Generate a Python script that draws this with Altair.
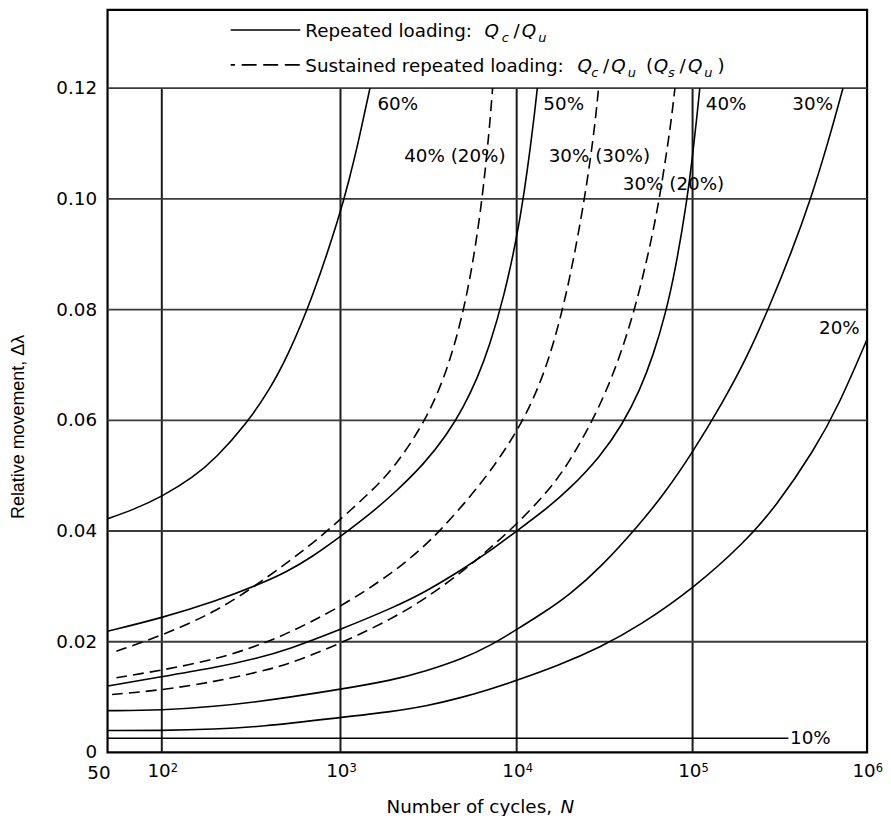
import altair as alt
import pandas as pd

FONT = "DejaVu Sans"
FS = 18.4
W, H = 763, 746

# ---------------- data ----------------
x_ticks = [50, 100, 1000, 10000, 100000, 1000000]
x_tick_base = ["50", "10", "10", "10", "10", "10"]
x_tick_exp = ["", "2", "3", "4", "5", "6"]
x_grid = [100, 1000, 10000, 100000]
y_ticks = [0, 0.02, 0.04, 0.06, 0.08, 0.10, 0.12]
y_tick_labels = ["0", "0.02", "0.04", "0.06", "0.08", "0.10", "0.12"]
y_grid = [0.02, 0.04, 0.06, 0.08, 0.10, 0.12]

# repeated loading (solid)
r60_n = [50, 70, 100, 150, 200, 300, 400, 500, 700, 1000, 1110, 1250, 1380, 1470]
r60_v = [0.0422, 0.0439, 0.0462, 0.0497, 0.0531, 0.0595, 0.0655, 0.0712, 0.0822, 0.0975, 0.1030, 0.1096, 0.1160, 0.1200]
r50_n = [50, 100, 200, 348, 500, 700, 1000, 1500, 2000, 3000, 4000, 5000, 6000, 7000, 8500, 10000, 11000, 12000, 12700, 13100]
r50_v = [0.0219, 0.0243, 0.0273, 0.0303, 0.0326, 0.0354, 0.0390, 0.0433, 0.0467, 0.0522, 0.0573, 0.0624, 0.0677, 0.0733, 0.0825, 0.0929, 0.1008, 0.1096, 0.1160, 0.1200]
r40_n = [50, 100, 200, 348, 500, 1000, 2000, 3000, 5000, 7000, 10000, 15000, 20000, 30000, 40000, 50000, 60000, 70000, 80000, 93000, 100000, 106000, 110000]
r40_v = [0.0120, 0.0137, 0.0153, 0.0171, 0.0185, 0.0222, 0.0262, 0.0289, 0.0332, 0.0363, 0.0400, 0.0442, 0.0476, 0.0535, 0.0593, 0.0653, 0.0719, 0.0791, 0.0873, 0.0997, 0.1077, 0.1150, 0.1200]
r30_n = [50, 100, 200, 348, 500, 1000, 2000, 3000, 5000, 7000, 10000, 14000, 20000, 30000, 50000, 70000, 100000, 150000, 204000, 276000, 370000, 476000, 600000, 730000]
r30_v = [0.00755, 0.0076, 0.0083, 0.0092, 0.0099, 0.0114, 0.0131, 0.0146, 0.0170, 0.0192, 0.0222, 0.0251, 0.0285, 0.0334, 0.0412, 0.0470, 0.0542, 0.0634, 0.0712, 0.0805, 0.0904, 0.0999, 0.1102, 0.1200]
r20_n = [50, 100, 200, 348, 1000, 2000, 3000, 5000, 7000, 10000, 17000, 30000, 50000, 100000, 200000, 300000, 500000, 700000, 1000000]
r20_v = [0.00395, 0.00395, 0.0042, 0.0046, 0.0063, 0.0074, 0.0083, 0.0100, 0.0114, 0.0130, 0.0156, 0.0190, 0.0229, 0.0295, 0.0380, 0.0444, 0.0546, 0.0631, 0.0745]
r10_n = [50, 355000]
r10_v = [0.00257, 0.00257]

# sustained repeated loading (dashed)
s4020_n = [56, 100, 200, 330, 500, 700, 1000, 1500, 2000, 3000, 4000, 5000, 5800, 6400, 6800, 7100, 7300]
s4020_v = [0.0183, 0.0211, 0.0254, 0.0300, 0.0342, 0.0378, 0.0421, 0.0472, 0.0513, 0.0595, 0.0685, 0.0795, 0.0906, 0.1006, 0.1086, 0.1150, 0.1200]
s3030_n = [56, 100, 200, 348, 500, 1000, 2000, 3000, 3650, 5000, 7000, 10000, 13000, 16000, 20000, 24600, 27000, 28300, 29200]
s3030_v = [0.0135, 0.01485, 0.0168, 0.01934, 0.0214, 0.02624, 0.0325, 0.0373, 0.0400, 0.0448, 0.0505, 0.0578, 0.0650, 0.0730, 0.0850, 0.1008, 0.1101, 0.1155, 0.1200]
s3020_n = [53, 100, 200, 348, 500, 1000, 2000, 3000, 5000, 7000, 10000, 15000, 20000, 30000, 40000, 50000, 60000, 65300, 72000, 76500, 79400]
s3020_v = [0.01048, 0.01125, 0.0128, 0.01456, 0.0158, 0.01965, 0.0243, 0.0277, 0.0328, 0.0368, 0.0412, 0.0471, 0.0524, 0.0626, 0.0727, 0.0832, 0.0944, 0.1008, 0.1093, 0.1155, 0.1200]

solid_curves = [("60%", r60_n, r60_v), ("50%", r50_n, r50_v), ("40%", r40_n, r40_v),
                ("30%", r30_n, r30_v), ("20%", r20_n, r20_v), ("10%", r10_n, r10_v)]
dashed_curves = [("40% (20%)", s4020_n, s4020_v), ("30% (30%)", s3030_n, s3030_v),
                 ("30% (20%)", s3020_n, s3020_v)]

# curve labels
lab_text = ["60%", "50%", "40%", "30%", "20%", "40% (20%)", "30% (30%)", "30% (20%)", "10%"]
lab_n = [1600, 14000, 117500, 369000, 525000, 2270, 15000, 39600, 358000]
lab_v = [0.1171, 0.1171, 0.1171, 0.1171, 0.0766, 0.1077, 0.1077, 0.1027, 0.00257]


def to_df(curves):
    rows = []
    for name, ns, vs in curves:
        for i, (n, v) in enumerate(zip(ns, vs)):
            rows.append({"curve": name, "N": n, "v": v, "i": i})
    return pd.DataFrame(rows)


solid_df = to_df(solid_curves)
dashed_df = to_df(dashed_curves)
label_df = pd.DataFrame({"t": lab_text, "N": lab_n, "v": lab_v})
xt_df = pd.DataFrame({"N": x_ticks, "b": x_tick_base, "e": x_tick_exp})
yt_df = pd.DataFrame({"v": y_ticks, "t": y_tick_labels})
one = pd.DataFrame({"k": [0]})

xs = alt.Scale(type="log", domain=[50, 100, 1000, 10000, 100000, 1000000],
               range=[0, 54.5, 234, 411, 587.7, 762.7], nice=False)
ys = alt.Scale(domain=[0, 0.13415], nice=False, zero=False)

X = lambda: alt.X("N:Q", scale=xs, axis=None)
Yn = lambda: alt.Y("v:Q", scale=ys, axis=None)

layers = []

# vertical grid lines (stop at 0.12)
layers.append(
    alt.Chart(pd.DataFrame({"N": x_grid})).mark_rule(color="#1a1a1a", strokeWidth=2).encode(
        x=X(), y=alt.YDatum(0.0, scale=ys, axis=None), y2=alt.datum(0.12))
)
# horizontal grid lines
layers.append(
    alt.Chart(pd.DataFrame({"v": y_grid})).mark_rule(color="#3a3a3a", strokeWidth=1.8).encode(
        y=Yn(), x=alt.value(0), x2=alt.value(W))
)

# curves
layers.append(
    alt.Chart(solid_df).mark_line(color="black", strokeWidth=1.6, interpolate="basis").encode(
        x=X(), y=Yn(), detail="curve:N", order="i:Q")
)
layers.append(
    alt.Chart(dashed_df).mark_line(color="black", strokeWidth=1.6, interpolate="basis",
                                   strokeDash=[11, 6]).encode(
        x=X(), y=Yn(), detail="curve:N", order="i:Q")
)

# curve labels
layers.append(
    alt.Chart(label_df).mark_text(font=FONT, fontSize=FS, align="left", baseline="middle",
                                  color="black", dx=1).encode(
        x=X(), y=Yn(), text="t:N")
)

# y tick labels
layers.append(
    alt.Chart(yt_df).mark_text(font=FONT, fontSize=FS, align="right", baseline="middle",
                               color="black").encode(
        x=alt.value(-10.5), y=Yn(), text="t:N")
)

# x tick labels
layers.append(
    alt.Chart(xt_df).transform_filter("datum.e != ''").mark_text(
        font=FONT, fontSize=FS, align="right", baseline="middle", color="black", dx=9).encode(
        x=X(), y=alt.value(764.4), text="b:N")
)
layers.append(
    alt.Chart(xt_df).transform_filter("datum.e != ''").mark_text(
        font=FONT, fontSize=11.5, align="left", baseline="middle", color="black", dx=9).encode(
        x=X(), y=alt.value(762.2), text="e:N")
)
layers.append(
    alt.Chart(xt_df).transform_filter("datum.e == ''").mark_text(
        font=FONT, fontSize=FS, align="right", baseline="middle", color="black", dx=3).encode(
        x=X(), y=alt.value(766.7), text="b:N")
)


def ptext(s, x, y, size=FS, style="normal", align="left", angle=0, font=FONT):
    return alt.Chart(one).mark_text(
        text=s, font=font, fontSize=size, fontStyle=style, align=align,
        baseline="middle", angle=angle, color="black").encode(
        x=alt.value(x), y=alt.value(y))


# axis titles
layers.append(ptext("Number of cycles,", 280.3, 800.7))
layers.append(ptext("N", 455, 800.7, style="italic"))
layers.append(ptext("Relative movement, \u0394\u03bb", -88.5, 419, align="center", angle=270,
                    size=18, font="Liberation Sans"))

# legend samples
layers.append(alt.Chart(one).mark_rule(color="black", strokeWidth=1.6).encode(
    x=alt.value(123.7), x2=alt.value(193.7), y=alt.value(20.3)))
layers.append(alt.Chart(one).mark_rule(color="black", strokeWidth=1.6, strokeDash=[15, 6.7],
                                       strokeDashOffset=10.7).encode(
    x=alt.value(123.7), x2=alt.value(193.7), y=alt.value(55.3)))

SUB = 13
# legend row 1
layers += [
    ptext("Repeated loading:", 198.7, 21),
    ptext("Q", 378.7, 21, style="italic"),
    ptext("c", 396, 28.3, size=SUB, style="italic"),
    ptext("/", 407.7, 21),
    ptext("Q", 416, 21, style="italic"),
    ptext("u", 432.7, 28.3, size=SUB, style="italic"),
]
# legend row 2
layers += [
    ptext("Sustained repeated loading:", 198.7, 56),
    ptext("Q", 472, 56, style="italic"),
    ptext("c", 486, 63.3, size=SUB, style="italic"),
    ptext("/", 497.7, 56),
    ptext("Q", 506, 56, style="italic"),
    ptext("u", 522.7, 63.3, size=SUB, style="italic"),
    ptext("(", 541, 56),
    ptext("Q", 548.7, 56, style="italic"),
    ptext("s", 563, 63.3, size=SUB, style="italic"),
    ptext("/", 574.5, 56),
    ptext("Q", 583, 56, style="italic"),
    ptext("u", 599.5, 63.3, size=SUB, style="italic"),
    ptext(")", 612.7, 56),
]

chart = alt.layer(*layers).properties(
    width=W, height=H,
    autosize=alt.AutoSizeParams(type="none"),
    padding={"left": 100, "top": 0, "right": 16, "bottom": 62},
    background="white",
).configure_view(stroke="black", strokeWidth=2.2)

chart.save("out.html", embed_options={"renderer": "svg", "actions": False})
